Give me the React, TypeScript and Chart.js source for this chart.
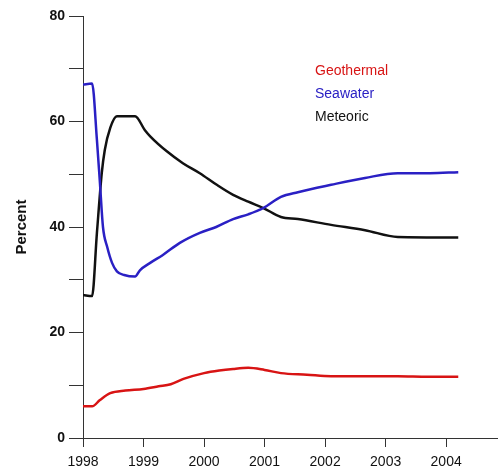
import React, { useEffect, useRef } from "react";
import { Chart, registerables } from "chart.js";

Chart.register(...registerables);

const seriesLabels = ["Geothermal", "Seawater", "Meteoric"];
const seriesColors = ["#d81414", "#2a20c4", "#111111"];

const geoYears = [1998.0, 1998.15, 1998.28, 1998.45, 1998.7, 1999.0, 1999.25, 1999.45, 1999.66, 2000.0, 2000.25, 2000.48, 2000.73, 2001.0, 2001.27, 2001.7, 2002.1, 2002.66, 2003.2, 2003.7, 2004.2];
const geoValues = [6.0, 6.0, 7.2, 8.5, 9.0, 9.3, 9.8, 10.2, 11.2, 12.3, 12.8, 13.1, 13.3, 12.9, 12.3, 12.0, 11.7, 11.7, 11.7, 11.6, 11.6];

const seaYears = [1998.0, 1998.15, 1998.23, 1998.28, 1998.33, 1998.4, 1998.48, 1998.56, 1998.68, 1998.86, 1998.94, 1999.11, 1999.32, 1999.6, 1999.93, 2000.2, 2000.48, 2000.73, 2000.98, 2001.27, 2001.55, 2002.1, 2002.66, 2003.2, 2003.73, 2004.2];
const seaValues = [67.0, 67.2, 56.5, 48.3, 40.0, 36.2, 33.2, 31.6, 30.9, 30.6, 31.8, 33.2, 34.7, 37.0, 38.9, 40.0, 41.5, 42.4, 43.6, 45.7, 46.6, 48.0, 49.3, 50.2, 50.2, 50.4];

const metYears = [1998.0, 1998.15, 1998.23, 1998.31, 1998.36, 1998.45, 1998.56, 1998.86, 1999.02, 1999.11, 1999.39, 1999.65, 1999.93, 2000.21, 2000.48, 2000.73, 2000.98, 2001.27, 2001.55, 2002.1, 2002.66, 2003.2, 2004.2];
const metValues = [27.1, 26.9, 38.9, 50.2, 54.6, 58.8, 61.0, 61.0, 58.4, 57.2, 54.3, 52.1, 50.2, 48.0, 46.1, 44.8, 43.6, 41.9, 41.5, 40.4, 39.4, 38.1, 38.0];

const yearTicks = [1998, 1999, 2000, 2001, 2002, 2003, 2004];
const yLabelTicks = [0, 20, 40, 60, 80];

const toPoints = (xs: number[], ys: number[]) => xs.map((x, i) => ({ x, y: ys[i] }));

const FONT = '"Liberation Sans", Arial, sans-serif';

const textLegend = {
  id: "textLegend",
  afterDraw(chart: any) {
    const { ctx, chartArea } = chart;
    ctx.save();
    ctx.font = `14px ${FONT}`;
    ctx.textBaseline = "middle";
    ctx.textAlign = "left";
    chart.data.datasets.forEach((ds: any, i: number) => {
      ctx.fillStyle = ds.borderColor;
      ctx.fillText(ds.label, chartArea.left + 232, chartArea.top + 55 + i * 23);
    });
    ctx.restore();
  },
};

export default function App() {
  const ref = useRef<HTMLCanvasElement | null>(null);

  useEffect(() => {
    if (!ref.current) return;
    const all = [
      toPoints(geoYears, geoValues),
      toPoints(seaYears, seaValues),
      toPoints(metYears, metValues),
    ];
    const chart = new Chart(ref.current, {
      type: "line",
      data: {
        datasets: all.map((pts, i) => ({
          label: seriesLabels[i],
          data: pts,
          borderColor: seriesColors[i],
          backgroundColor: seriesColors[i],
          borderWidth: 2.5,
          pointRadius: 0,
          cubicInterpolationMode: "monotone" as const,
          fill: false,
        })),
      },
      options: {
        animation: false,
        responsive: true,
        maintainAspectRatio: false,
        layout: { padding: { top: 16, right: 1, left: 0, bottom: 0 } },
        plugins: { legend: { display: false }, tooltip: { enabled: false } },
        scales: {
          x: {
            type: "linear",
            min: 1998,
            max: 2004.84,
            afterBuildTicks: (scale: any) => {
              scale.ticks = yearTicks.map((v) => ({ value: v }));
            },
            afterFit: (scale: any) => {
              scale.height = 33;
            },
            ticks: {
              autoSkip: false,
              maxRotation: 0,
              padding: 7,
              color: "#111",
              font: { family: FONT, size: 14 },
              callback: (v: any) => String(v),
            },
            grid: { drawOnChartArea: false, drawTicks: true, tickLength: 9, color: "#333" },
            border: { display: true, color: "#333", width: 1 },
          },
          y: {
            min: 0,
            max: 80,
            afterFit: (scale: any) => {
              scale.width = 83;
            },
            ticks: {
              stepSize: 10,
              padding: 4,
              color: "#111",
              font: { family: FONT, size: 14, weight: "bold" },
              callback: (v: any) => (yLabelTicks.includes(Number(v)) ? String(v) : ""),
            },
            title: {
              display: true,
              text: "Percent",
              color: "#111",
              font: { family: FONT, size: 15, weight: "bold" },
              padding: { top: 13, bottom: 0 },
            },
            grid: { drawOnChartArea: false, drawTicks: true, tickLength: 14, color: "#333" },
            border: { display: true, color: "#333", width: 1 },
          },
        },
      },
      plugins: [textLegend],
    });
    return () => chart.destroy();
  }, []);

  return (
    <div style={{ position: "fixed", left: 0, top: 0, width: 498, height: 471, background: "#fff" }}>
      <canvas ref={ref} />
    </div>
  );
}
